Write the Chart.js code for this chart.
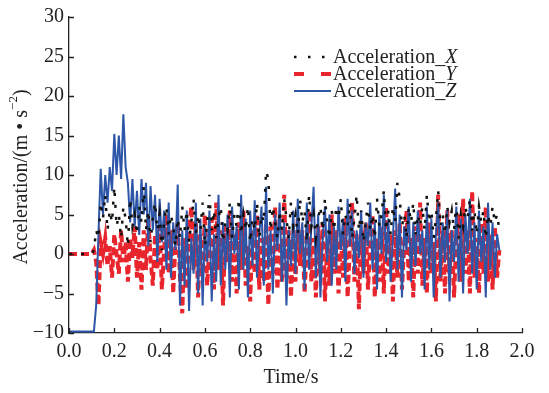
<!DOCTYPE html>
<html>
<head>
<meta charset="utf-8">
<script src="https://cdn.jsdelivr.net/npm/chart.js@4"></script>
<style>
  body { margin: 0; background: #fff; }
</style>
</head>
<body>
<canvas id="accChart" width="549" height="393"></canvas>
<script>
// sampling step of the record (s)
const dt = 0.01;

// Acceleration_X (black dotted)
const accX = [
  0, 0, 0, 0, 0, 0, 0, 0, 0, 0,
  0, 0.5, 3, 2, 6.5, 4.5, 7.5, 3, 5.5, 4,
  8.5, 3.5, 5, 2, 6, 4.5, 1, 7, 3.5, 5,
  2.5, 6, 4, 8.5, 3, 5.5, 1.5, 4.5, 6.5, 3,
  5, 0.5, 4, 6, 2.5, 5, 3.5, 1, 4.5, 2,
  6, 3, 5.5, 1.5, 4, 7, 2.5, 5, 3, 6.5,
  1, 4, 7.5, 3, 5.5, 2, 4.5, 6, 1.5, 4,
  3, 6.5, 2, 5, 3.5, 7, 2.5, 5, 3, 6,
  1.5, 4.5, 3, 6.5, 2, 5, 4, 10.5, 9.5, 3,
  6, 4, 2, 5.5, 3, 7, 4.5, 2, 6.5, 3.5,
  5, 2.5, 7, 4, 5.5, 1.5, 7.5, 3.5, 5, 2,
  4.5, 6, 3, 7, 4, 2, 5.5, 3, 6, 4.5,
  7, 2.5, 5, 3.5, 6.5, 2, 4.5, 7.5, 3, 5.5,
  1.5, 4, 6.5, 3, 5, 2, 7, 3.5, 5, 8,
  3, 5.5, 2.5, 6, 4, 9, 7, 3.5, 5, 2,
  6, 4, 6.5, 2.5, 5, 3.5, 6, 3, 7.5, 4,
  5.5, 2, 4.5, 8, 3.5, 5, 2.5, 6, 4, 5.5,
  3, 6.5, 2, 5, 3.5, 6, 4.5, 7, 3, 5.5,
  2.5, 6, 4, 5.5, 2, 5, 3.5, 6, 4, 5,
  3
];

// Acceleration_Y (red dashed)
const accY = [
  0, 0, 0, 0, 0, 0, 0, 0, 0, 0,
  0, 0.5, -1, -6.5, 1.5, 0, 2, -1.5, 1, -3,
  2.5, 0, -2.5, 3, -1, 1.5, -3.5, 2, -0.5, 3.5,
  -3, 1.5, -4.5, 3, -2, 4.5, -0.5, -4, 2.5, -2,
  3.5, -4.5, 0.5, 5, -2.5, 3, -5, 1.5, 4, -3,
  -7.5, 2, -4.5, 3, 6, -2, 4, -5.5, 2.5, -2.5,
  5, -4, 1, 4.5, -4.5, 6.5, -2, 3, -6.5, 3.5,
  -1, 5.5, -3.5, 2.5, -5, 4, -2, 5.5, -4, 1,
  -6, 3, -2.5, 5, -4.5, 2, -3.5, 4, -6.5, 3.5,
  -2.5, 6, -4.5, 1.5, -3.5, 7.5, -3, 3, -5.5, 2,
  -3.5, 4.5, -1.5, 3, -5, 1, 5.5, -3.5, 2, -5.5,
  3.5, -2.5, 4, -6, 1.5, -4, 5, -2.5, 3, -5,
  2, -3, 4.5, -5.5, 1, 6.5, -3.5, 2.5, -7, 3,
  -2.5, 4, -4.5, 1.5, 5, -5.5, 2, -3.5, 3.5, -5,
  6, -2.5, 2.5, -6, 3, -3, 4, -4.5, 1, 5.5,
  -3.5, 2, -5.5, 3.5, -2.5, 6.5, -4, 2, -5, 4,
  -2.5, 1.5, -6, 7.5, -3.5, 3, -5, 5.5, -2.5, 3,
  -5.5, 2, 5, -3.5, 7, -2.5, 3, -5, 8, -3,
  2, -5, 4, -2.5, 6, -3.5, 2.5, -4.5, 3.5, -3,
  0.5
];

// Acceleration_Z (blue solid)
const accZ = [
  -9.8, -9.8, -9.8, -9.8, -9.8, -9.8, -9.8, -9.8, -9.8, -9.8,
  -9.8, -9.8, -6.5, 2.5, 10.8, 5, 10, 6.5, 11, 8,
  15.2, 10, 15, 9.5, 17.7, 11, 9, 4, 9.5, 3.5,
  8, 2.4, 9.5, 5, 9, 1, 8.6, 3, 7.5, -1,
  7, 1.5, 5.5, -2, 6.5, -3, 4, 0.5, 8.8, -6.5,
  3, -4, 5.5, -7.2, 2, -2.5, 6.5, -5, 4.5, -6.5,
  3.5, -1, 5.5, -6, 2.5, -3.5, 7.5, -4, 4, -2,
  5, -5.5, 6, 0, 3.5, -4.5, 7.5, -2, 4.5, -5.5,
  5.5, -1.5, 6.8, -3, 2.5, 6, -4, 8.5, -2, 3,
  -5, 5, 0.5, 6.5, -3.5, 4, -6.5, 3, -1.5, 5.5,
  -2.5, 7, 0, 4, -4.5, 6.5, -2, 3.5, 8.5, -3,
  5, -5.5, 2, 6, -1, 5, -4, 3.5, -2, 6,
  0.5, 4.5, -3.5, 7, 1, 5.5, -2.5, 3, -0.5, 5.5,
  -3, 4, 1, 6.5, -2, 4, -4.5, 5, 0, 7.5,
  -1, 4.5, -3.5, 2, 8.3, -2, 5, -5.5, 3.5, 0.5,
  6, -3.5, 4, -1.5, 5.5, 0, 3, -4.5, 6, -2,
  4.5, -5.5, 2.5, 6.5, -3, 4, -1, 5.5, -6, 3,
  -1, 6, -3.5, 4.5, -5, 5, 0, 7, -2.5, 4,
  -4.5, 5.5, -1, 3.5, -5.5, 6.5, -2, 4, -3, 2.5,
  0.5
];

const seriesNames = ["X", "Y", "Z"];
const seriesColors = ["#111111", "#e8242c", "#2e56a8"];

const time = accZ.map((_, i) => Math.round(i * dt * 100) / 100);
const toPoints = (arr) => arr.map((v, i) => ({ x: time[i], y: v }));

const FONT = "'Liberation Serif', 'Times New Roman', serif";

// inward ticks, axis titles and legend drawn by hand
const decorPlugin = {
  id: "decor",
  afterDraw(chart) {
    const { ctx, chartArea, scales } = chart;
    const xs = scales.x;
    const ys = scales.y;
    ctx.save();
    ctx.strokeStyle = "#222";
    ctx.lineWidth = 1.3;
    ctx.beginPath();
    xs.ticks.forEach((t) => {
      const px = Math.round(xs.getPixelForValue(t.value)) + 0.5;
      ctx.moveTo(px, chartArea.bottom);
      ctx.lineTo(px, chartArea.bottom - 5);
    });
    ys.ticks.forEach((t) => {
      const py = Math.round(ys.getPixelForValue(t.value)) + 0.5;
      ctx.moveTo(chartArea.left, py);
      ctx.lineTo(chartArea.left + 5, py);
    });
    ctx.stroke();

    // x title
    ctx.fillStyle = "#222";
    ctx.font = "20px " + FONT;
    ctx.textAlign = "center";
    ctx.textBaseline = "middle";
    ctx.fillText("Time/s", 291, 378);

    // y title with superscript
    const main = "Acceleration/(m \u2022 s";
    const sup = "\u22122";
    const tail = ")";
    ctx.font = "20px " + FONT;
    const wMain = ctx.measureText(main).width;
    const wTail = ctx.measureText(tail).width;
    ctx.font = "13px " + FONT;
    const wSup = ctx.measureText(sup).width;
    const total = wMain + wSup + wTail;
    ctx.translate(22, 177);
    ctx.rotate(-Math.PI / 2);
    ctx.textAlign = "left";
    let cx = -total / 2;
    ctx.font = "20px " + FONT;
    ctx.fillText(main, cx, 0);
    cx += wMain;
    ctx.font = "13px " + FONT;
    ctx.fillText(sup, cx, -8);
    cx += wSup;
    ctx.font = "20px " + FONT;
    ctx.fillText(tail, cx, 0);
    ctx.restore();

    // legend
    ctx.save();
    const dashes = [[2.5, 11.5], [10, 17], []];
    const widths = [2.5, 4, 2];
    seriesNames.forEach((name, i) => {
      const yy = 57 + i * 17;
      ctx.strokeStyle = seriesColors[i];
      ctx.lineWidth = widths[i];
      ctx.setLineDash(dashes[i]);
      ctx.beginPath();
      ctx.moveTo(294, yy);
      ctx.lineTo(331, yy);
      ctx.stroke();
      ctx.setLineDash([]);
      ctx.fillStyle = "#222";
      ctx.textBaseline = "middle";
      ctx.textAlign = "left";
      ctx.font = "20px " + FONT;
      const label = "Acceleration_";
      ctx.fillText(label, 333, yy + 1);
      const w = ctx.measureText(label).width;
      ctx.font = "italic 20px " + FONT;
      ctx.fillText(name, 333 + w, yy + 1);
    });
    ctx.restore();
  }
};

new Chart(document.getElementById("accChart"), {
  type: "line",
  data: {
    datasets: [
      {
        label: "Acceleration_X",
        data: toPoints(accX),
        borderColor: seriesColors[0],
        borderWidth: 2.5,
        borderDash: [3, 9],
        order: 0
      },
      {
        label: "Acceleration_Y",
        data: toPoints(accY),
        borderColor: seriesColors[1],
        borderWidth: 4,
        borderDash: [8, 4],
        order: 2
      },
      {
        label: "Acceleration_Z",
        data: toPoints(accZ),
        borderColor: seriesColors[2],
        borderWidth: 2,
        order: 1
      }
    ]
  },
  options: {
    responsive: false,
    animation: false,
    layout: { padding: { top: 17, right: 27, left: 0, bottom: 0 } },
    elements: { point: { radius: 0 }, line: { tension: 0 } },
    plugins: {
      legend: { display: false },
      tooltip: { enabled: false }
    },
    scales: {
      x: {
        type: "linear",
        min: 0,
        max: 2,
        grid: { display: false, drawTicks: false },
        border: { display: true, color: "#222", width: 1.3 },
        ticks: {
          stepSize: 0.2,
          padding: 7,
          color: "#222",
          font: { family: FONT, size: 20 },
          callback: (v) => v.toFixed(1)
        },
        afterFit: (scale) => { scale.height = 60; }
      },
      y: {
        min: -10,
        max: 30,
        grid: { display: false, drawTicks: false },
        border: { display: true, color: "#222", width: 1.3 },
        ticks: {
          stepSize: 5,
          padding: 5,
          color: "#222",
          font: { family: FONT, size: 20 },
          callback: (v) => (v < 0 ? "\u2212" + Math.abs(v) : String(v))
        },
        afterFit: (scale) => { scale.width = 69; }
      }
    }
  },
  plugins: [decorPlugin]
});
</script>
</body>
</html>
